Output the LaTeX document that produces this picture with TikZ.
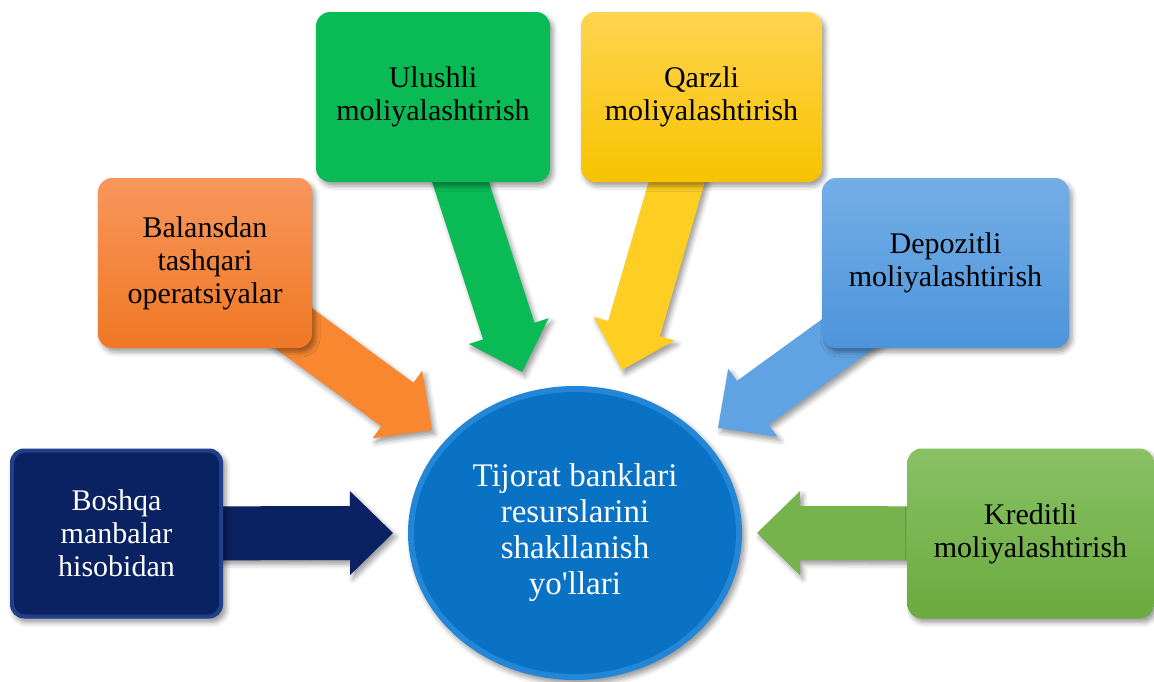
\documentclass[tikz,border=0pt]{standalone}
\usepackage{fontspec}
\setmainfont{Liberation Serif}
\usetikzlibrary{calc,shapes.geometric,shadows.blur}

\definecolor{navyin}{HTML}{0B2262}
\definecolor{navyrim}{HTML}{22408A}
\definecolor{orangetop}{HTML}{F8965C}
\definecolor{orangebot}{HTML}{EF7823}
\definecolor{orangearr}{HTML}{F8872F}
\definecolor{greenbox}{HTML}{0ABB55}
\definecolor{yellowtop}{HTML}{FFD44F}
\definecolor{yellowbot}{HTML}{F7C300}
\definecolor{yellowarr}{HTML}{FECE22}
\definecolor{bluetop}{HTML}{74AEE7}
\definecolor{bluebot}{HTML}{4D94DA}
\definecolor{bluearr}{HTML}{5FA3E3}
\definecolor{limetop}{HTML}{89C165}
\definecolor{limebot}{HTML}{6AAA3E}
\definecolor{limearr}{HTML}{77B34C}
\definecolor{hubrim}{HTML}{2486D6}
\definecolor{hubin}{HTML}{0A72C4}

\tikzset{
  softshadow/.style={blur shadow={shadow xshift=3pt, shadow yshift=-4pt,
      shadow opacity=40, shadow blur radius=5pt}},
  card/.style={softshadow, rounded corners=14pt, minimum height=170pt,
      align=center, inner sep=0pt, text=black,
      font=\fontsize{30}{33}\selectfont},
  shaft/.style={softshadow},
}

% block arrow from the centre of a box (#2) to a tip coordinate (#3)
\newcommand\blockarrow[3]{%
  \coordinate (ba-h) at ($(#3)!43pt!(#2)$);
  \fill[shaft, #1] (#3)
    -- ($(ba-h)!42pt!90:(#2)$) -- ($(ba-h)!27pt!90:(#2)$)
    -- ($(#2)!27pt!-90:(#3)$) -- ($(#2)!27pt!90:(#3)$)
    -- ($(ba-h)!27pt!-90:(#2)$) -- ($(ba-h)!42pt!-90:(#2)$) -- cycle;
}

\begin{document}
\begin{tikzpicture}[x=1pt, y=-1pt]
\useasboundingbox (0,0) rectangle (1154,681);

% centres of the boxes
\coordinate (c-bosh) at (116.5,533.5);
\coordinate (c-bal)  at (205,263);
\coordinate (c-ulu)  at (433,97);
\coordinate (c-qar)  at (701.5,97);
\coordinate (c-dep)  at (945.5,263);
\coordinate (c-kre)  at (1030.5,533.5);

% arrow tips near the hub
\coordinate (t-bosh) at (393,533);
\coordinate (t-bal)  at (432,430);
\coordinate (t-ulu)  at (522,372);
\coordinate (t-qar)  at (622,370);
\coordinate (t-dep)  at (718,428);
\coordinate (t-kre)  at (757,533);

% arrows, drawn beneath the boxes
\blockarrow{fill=navyin}{c-bosh}{t-bosh}
\blockarrow{fill=orangearr}{c-bal}{t-bal}
\blockarrow{fill=greenbox}{c-ulu}{t-ulu}
\blockarrow{fill=yellowarr}{c-qar}{t-qar}
\blockarrow{fill=bluearr}{c-dep}{t-dep}
\blockarrow{fill=limearr}{c-kre}{t-kre}

% source boxes
\node[card, minimum width=213pt, fill=navyrim, text=white,
  path picture={\fill[navyin, rounded corners=11pt]
    ($(path picture bounding box.south west)+(4pt,4pt)$) rectangle
    ($(path picture bounding box.north east)+(-4pt,-4pt)$);}]
  (bosh) at (c-bosh) {Boshqa\\manbalar\\hisobidan};
\node[card, minimum width=214pt, top color=orangetop, bottom color=orangebot]
  (bal) at (c-bal) {Balansdan\\tashqari\\operatsiyalar};
\node[card, minimum width=234pt, fill=greenbox]
  (ulu) at (c-ulu) {Ulushli\\moliyalashtirish};
\node[card, minimum width=241pt, top color=yellowtop, bottom color=yellowbot]
  (qar) at (c-qar) {Qarzli\\moliyalashtirish};
\node[card, minimum width=247pt, top color=bluetop, bottom color=bluebot]
  (dep) at (c-dep) {Depozitli\\moliyalashtirish};
\node[card, minimum width=246pt, top color=limetop, bottom color=limebot]
  (kre) at (c-kre) {Kreditli\\moliyalashtirish};

% central hub
\node[ellipse, softshadow, minimum width=334pt, minimum height=294pt,
  inner sep=0pt, fill=hubrim, text=white, align=center,
  font=\fontsize{33}{36}\selectfont,
  path picture={\fill[hubin] (path picture bounding box.center)
    ellipse [x radius=161pt, y radius=141pt];}]
  (hub) at (575,533) {Tijorat banklari\\resurslarini\\shakllanish\\yo\textquotesingle llari};
\end{tikzpicture}
\end{document}
